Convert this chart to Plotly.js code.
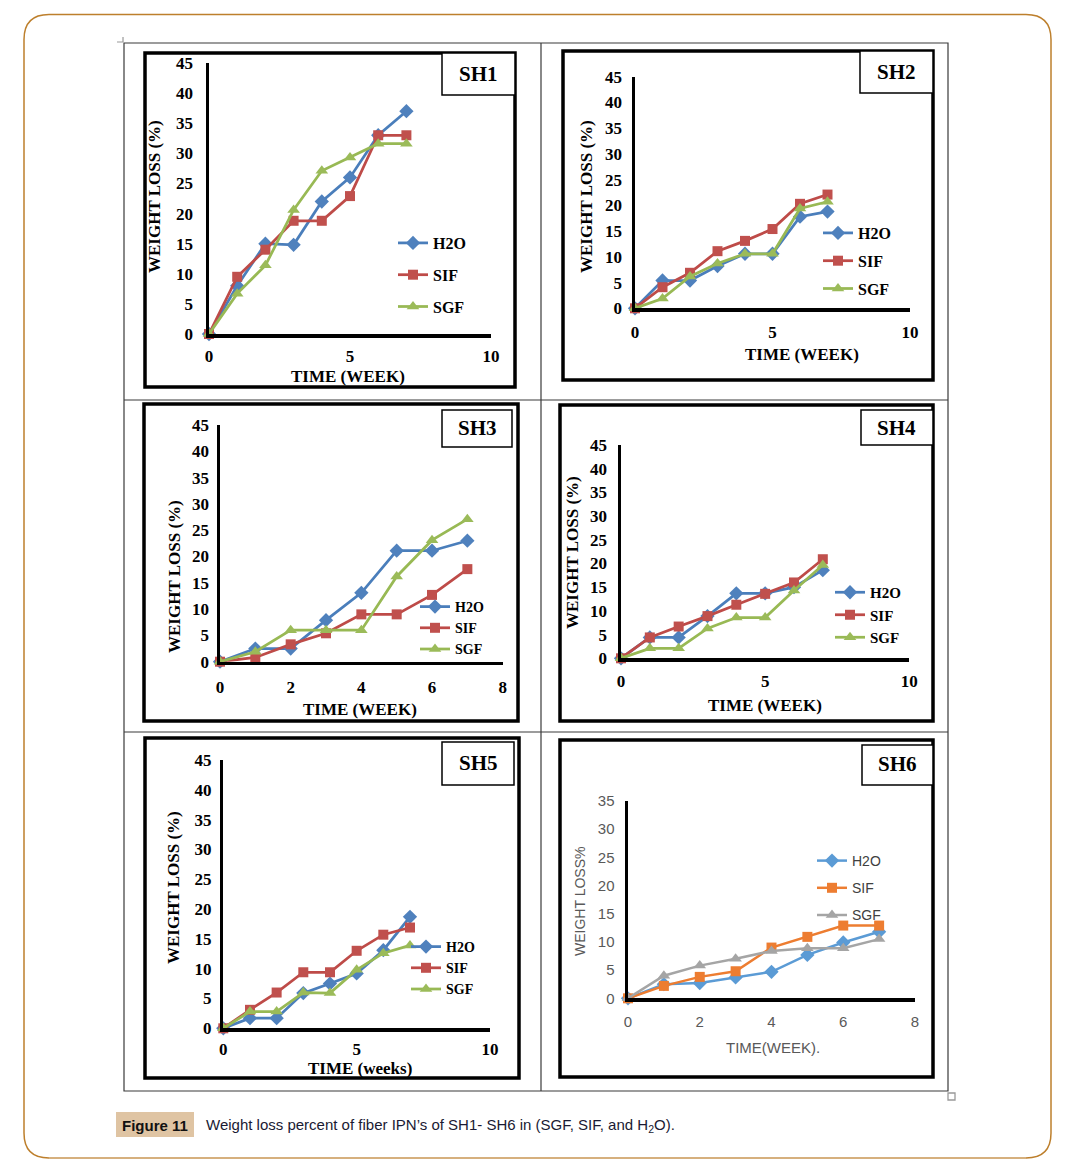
<!DOCTYPE html>
<html><head><meta charset="utf-8">
<script src="https://cdn.plot.ly/plotly-3.0.1.min.js"></script>
<style>html,body{margin:0;padding:0;background:#fff;}#chart{width:1071px;height:1165px;}</style>
</head><body><div id="chart"></div>
<script>
// ---------------- DATA ----------------
const weeks = [0, 1, 2, 3, 4, 5, 6, 7];
const seriesNames = ['H2O', 'SIF', 'SGF'];
const panelTitles = ['SH1', 'SH2', 'SH3', 'SH4', 'SH5', 'SH6'];
const xTitles = ['TIME (WEEK)', 'TIME (WEEK)', 'TIME (WEEK)', 'TIME (WEEK)', 'TIME (weeks)', 'TIME(WEEK).'];
const yTitles = ['WEIGHT LOSS (%)', 'WEIGHT LOSS (%)', 'WEIGHT LOSS (%)', 'WEIGHT LOSS (%)', 'WEIGHT LOSS (%)', 'WEIGHT LOSS%'];
const captionLabel = 'Figure 11';
const captionText = 'Weight loss percent of fiber IPN’s of SH1- SH6 in (SGF, SIF, and H<sub>2</sub>O).';

const sh1_H2O = [0, 8.0, 15.0, 14.8, 22.0, 26.0, 33.0, 37.0];
const sh1_SIF = [0, 9.5, 14.0, 18.8, 18.8, 22.9, 33.0, 33.0];
const sh1_SGF = [0, 6.7, 11.4, 20.6, 27.1, 29.3, 31.6, 31.6];

const sh2_H2O = [0, 5.4, 5.4, 8.2, 10.6, 10.6, 17.8, 18.8];
const sh2_SIF = [0, 4.1, 6.9, 11.1, 13.1, 15.4, 20.3, 22.1];
const sh2_SGF = [0, 1.9, 6.2, 8.7, 10.6, 10.6, 19.4, 20.7];

const sh3_H2O = [0, 2.5, 2.5, 7.9, 13.1, 21.1, 21.1, 23.0];
const sh3_SIF = [0, 0.8, 3.3, 5.4, 9.0, 9.0, 12.7, 17.6];
const sh3_SGF = [0, 1.9, 6.0, 6.0, 6.0, 16.2, 23.1, 27.1];

const sh4_H2O = [0, 4.4, 4.4, 8.9, 13.7, 13.7, 15.0, 18.6];
const sh4_SIF = [0, 4.4, 6.7, 8.9, 11.3, 13.6, 16.0, 20.9];
const sh4_SGF = [0, 2.1, 2.1, 6.3, 8.6, 8.6, 14.3, 19.7];

const sh5_H2O = [0, 1.7, 1.7, 5.9, 7.5, 9.2, 13.1, 18.7];
const sh5_SIF = [0, 3.1, 6.0, 9.4, 9.4, 13.0, 15.7, 16.9];
const sh5_SGF = [0, 2.8, 2.8, 6.0, 5.9, 9.8, 12.6, 13.9];

const sh6_H2O = [0, 2.5, 2.7, 3.7, 4.7, 7.7, 9.9, 11.8];
const sh6_SIF = [0, 2.2, 3.8, 4.8, 9.0, 10.9, 12.9, 12.9];
const sh6_SGF = [0, 4.0, 5.8, 7.0, 8.4, 8.9, 8.9, 10.5];

const xTickVals = [[0, 5, 10], [0, 5, 10], [0, 2, 4, 6, 8], [0, 5, 10], [0, 5, 10], [0, 2, 4, 6, 8]];
const yTickVals45 = [0, 5, 10, 15, 20, 25, 30, 35, 40, 45];
const yTickVals35 = [0, 5, 10, 15, 20, 25, 30, 35];

const panelData = [
  [sh1_H2O, sh1_SIF, sh1_SGF],
  [sh2_H2O, sh2_SIF, sh2_SGF],
  [sh3_H2O, sh3_SIF, sh3_SGF],
  [sh4_H2O, sh4_SIF, sh4_SGF],
  [sh5_H2O, sh5_SIF, sh5_SGF],
  [sh6_H2O, sh6_SIF, sh6_SGF]
];
const panelYTicks = [yTickVals45, yTickVals45, yTickVals45, yTickVals45, yTickVals45, yTickVals35];

// ---------------- LAYOUT GEOMETRY (pixels) ----------------
const W = 1071, H = 1165;
const px = v => v / W;
const py = v => 1 - v / H;

const geo = [
  {ax: [209, 491, 334, 63], frame: [145, 53, 515, 387], box: [442, 53, 515, 95], boxT: [478, 74],
   xt: [348, 377], yt: [155, 197], leg: [433, 242], gap: 8, lfs: 16, ylen: 9, xlen: 4},
  {ax: [635, 910, 308.3, 76.7], frame: [563, 51, 933, 380], box: [860, 51, 933, 93], boxT: [896, 72],
   xt: [802, 355], yt: [587, 197], leg: [858, 232], gap: 4, lfs: 16, ylen: 6, xlen: 6},
  {ax: [220, 502.7, 661.7, 425], frame: [144, 404, 518, 721], box: [442, 410, 512, 447], boxT: [477, 428],
   xt: [360, 709], yt: [174, 577], leg: [455, 607], gap: 0, lfs: 14, ylen: 4, xlen: 7},
  {ax: [621, 909.3, 658.3, 445], frame: [560, 405, 933, 721], box: [861, 410, 933, 445], boxT: [896, 428],
   xt: [765, 705], yt: [572, 553], leg: [870, 592], gap: 0, lfs: 15, ylen: 7, xlen: 5},
  {ax: [223.3, 490, 1028.3, 760], frame: [145, 738, 519, 1078], box: [442, 742, 514, 785], boxT: [478, 763],
   xt: [360, 1068], yt: [173, 888], leg: [446, 947], gap: 0, lfs: 14, ylen: 5, xlen: 3},
  {ax: [628, 915, 998.3, 801], frame: [560, 740, 933, 1077], box: [862, 745, 933, 785], boxT: [897, 764],
   xt: [773, 1047], yt: [580, 902], leg: [852, 861], gap: 6, lfs: 14, ylen: 7, xlen: 7}
];

const oldPal = {line: ['#4a7ebb', '#be4b48', '#98b954'], mk: ['#4f81bd', '#c0504d', '#9bbb59']};
const newPal = {line: ['#5b9bd5', '#ed7d31', '#a5a5a5'], mk: ['#5b9bd5', '#ed7d31', '#a5a5a5']};
const symbols = ['diamond', 'square', 'triangle-up'];
const msize = [11, 10, 11];

const serifB = {family: 'Liberation Serif, DejaVu Serif, serif', size: 17, color: '#000', weight: 'bold'};
const sansG = {family: 'Liberation Sans, Arial, sans-serif', size: 15, color: '#595959'};
const sansGy = {family: 'Liberation Sans, Arial, sans-serif', size: 14, color: '#595959'};

const traces = [];
const layout = {
  width: W, height: H, margin: {l: 0, r: 0, t: 0, b: 0},
  paper_bgcolor: '#fff', plot_bgcolor: 'rgba(0,0,0,0)',
  showlegend: true, shapes: [], annotations: []
};

panelData.forEach((series, i) => {
  const g = geo[i];
  const modern = i === 5;
  const pal = modern ? newPal : oldPal;
  const tickFont = modern ? sansG : serifB;
  const xs = i === 0 ? '' : String(i + 1);
  const legName = i === 0 ? 'legend' : 'legend' + (i + 1);
  const xt = xTickVals[i];
  const yt = panelYTicks[i];

  series.forEach((vals, s) => {
    traces.push({
      x: weeks, y: vals, name: seriesNames[s], type: 'scatter', mode: 'lines+markers',
      xaxis: 'x' + xs, yaxis: 'y' + xs, legend: legName, legendgroup: 'g' + i + s,
      line: {color: pal.line[s], width: modern ? 2.5 : 2.75},
      marker: {symbol: symbols[s], size: msize[s], color: pal.mk[s]},
      cliponaxis: false, hoverinfo: 'x+y+name'
    });
  });

  layout['xaxis' + xs] = {
    domain: [px(g.ax[0]), px(g.ax[1])], anchor: 'y' + xs,
    range: [0, xt[xt.length - 1]], tickvals: xt, ticktext: xt.map(String),
    showline: true, linecolor: '#000', linewidth: 3.5, showgrid: false, zeroline: false,
    ticks: 'outside', ticklen: g.xlen, tickcolor: 'rgba(0,0,0,0)', tickfont: tickFont, fixedrange: true
  };
  layout['yaxis' + xs] = {
    domain: [py(g.ax[2]), py(g.ax[3])], anchor: 'x' + xs,
    range: [0, yt[yt.length - 1]], tickvals: yt, ticktext: yt.map(String),
    showline: true, linecolor: '#000', linewidth: 3.5, showgrid: false, zeroline: false,
    ticks: 'outside', ticklen: g.ylen, tickcolor: 'rgba(0,0,0,0)', tickfont: tickFont, fixedrange: true
  };

  layout[legName] = {
    x: px(g.leg[0] - 40), y: py(g.leg[1] - 16), xanchor: 'left', yanchor: 'top',
    bgcolor: 'rgba(0,0,0,0)', borderwidth: 0, tracegroupgap: g.gap,
    font: modern ? {family: sansG.family, size: 14, color: '#404040'}
                 : {family: serifB.family, size: g.lfs, color: '#000', weight: 'bold'}
  };

  // frame
  layout.shapes.push({type: 'rect', xref: 'paper', yref: 'paper',
    x0: px(g.frame[0]), x1: px(g.frame[2]), y0: py(g.frame[1]), y1: py(g.frame[3]),
    line: {color: '#000', width: 3.5}, fillcolor: 'rgba(0,0,0,0)', layer: 'below'});
  // title box
  layout.shapes.push({type: 'rect', xref: 'paper', yref: 'paper',
    x0: px(g.box[0]), x1: px(g.box[2]), y0: py(g.box[1]), y1: py(g.box[3]),
    line: {color: '#000', width: 1.5}, fillcolor: '#fff', layer: 'below'});
  layout.annotations.push({xref: 'paper', yref: 'paper', x: px(g.boxT[0]), y: py(g.boxT[1]),
    text: panelTitles[i], showarrow: false, xanchor: 'center', yanchor: 'middle',
    font: {family: 'Liberation Serif, DejaVu Serif, serif', size: 21, color: '#000', weight: 'bold'}});
  // axis titles
  layout.annotations.push({xref: 'paper', yref: 'paper', x: px(g.xt[0]), y: py(g.xt[1]),
    text: xTitles[i], showarrow: false, xanchor: 'center', yanchor: 'middle', font: tickFont});
  layout.annotations.push({xref: 'paper', yref: 'paper', x: px(g.yt[0]), y: py(g.yt[1]),
    text: yTitles[i], showarrow: false, xanchor: 'center', yanchor: 'middle', textangle: -90,
    font: modern ? sansGy : tickFont});
});

// ---------------- PAGE DECORATION ----------------
const R = 25, L = 24, T = 14.5, Rt = 1051, B = 1158;
const P = (x, y) => px(x).toFixed(5) + ',' + py(y).toFixed(5);
layout.shapes.push({type: 'path', xref: 'paper', yref: 'paper', layer: 'below',
  path: 'M' + P(L + R, T) + ' L' + P(Rt - R, T) + ' Q' + P(Rt, T) + ' ' + P(Rt, T + R) +
        ' L' + P(Rt, B - R) + ' Q' + P(Rt, B) + ' ' + P(Rt - R, B) +
        ' L' + P(L + R, B) + ' Q' + P(L, B) + ' ' + P(L, B - R) +
        ' L' + P(L, T + R) + ' Q' + P(L, T) + ' ' + P(L + R, T) + ' Z',
  line: {color: '#bd7f2c', width: 1.5}, fillcolor: 'rgba(0,0,0,0)'});
layout.shapes.push({type: 'line', xref: 'paper', yref: 'paper', layer: 'below',
  x0: px(L + R), x1: px(Rt - R), y0: py(B), y1: py(B), line: {color: '#d6b07e', width: 2}});

// table grid
const tbl = [124, 43, 948, 1091];
layout.shapes.push({type: 'rect', xref: 'paper', yref: 'paper', layer: 'below',
  x0: px(tbl[0]), x1: px(tbl[2]), y0: py(tbl[1]), y1: py(tbl[3]), line: {color: '#3a3a3a', width: 1.2}});
layout.shapes.push({type: 'line', xref: 'paper', yref: 'paper', layer: 'below',
  x0: px(541), x1: px(541), y0: py(tbl[1]), y1: py(tbl[3]), line: {color: '#3a3a3a', width: 1.2}});
[400, 732].forEach(yy => layout.shapes.push({type: 'line', xref: 'paper', yref: 'paper', layer: 'below',
  x0: px(tbl[0]), x1: px(tbl[2]), y0: py(yy), y1: py(yy), line: {color: '#3a3a3a', width: 1.2}}));
// tiny marks
layout.shapes.push({type: 'path', xref: 'paper', yref: 'paper', layer: 'below',
  path: 'M' + P(117, 42) + ' L' + P(123, 42) + ' L' + P(123, 37), line: {color: '#999', width: 1.2}});
layout.shapes.push({type: 'rect', xref: 'paper', yref: 'paper', layer: 'below',
  x0: px(948), x1: px(955), y0: py(1093), y1: py(1100), line: {color: '#999', width: 1.3}});

// caption
layout.shapes.push({type: 'rect', xref: 'paper', yref: 'paper', layer: 'below',
  x0: px(116), x1: px(194), y0: py(1112), y1: py(1137), line: {width: 0}, fillcolor: '#dfc4a3'});
layout.annotations.push({xref: 'paper', yref: 'paper', x: px(155), y: py(1125), text: captionLabel,
  showarrow: false, xanchor: 'center', yanchor: 'middle',
  font: {family: 'Liberation Sans, sans-serif', size: 15, color: '#111', weight: 'bold'}});
layout.annotations.push({xref: 'paper', yref: 'paper', x: px(204), y: py(1125), text: captionText,
  showarrow: false, xanchor: 'left', yanchor: 'middle',
  font: {family: 'Liberation Sans, sans-serif', size: 15, color: '#1a1a33'}});

Plotly.newPlot('chart', traces, layout, {staticPlot: true, displayModeBar: false});
</script></body></html>
